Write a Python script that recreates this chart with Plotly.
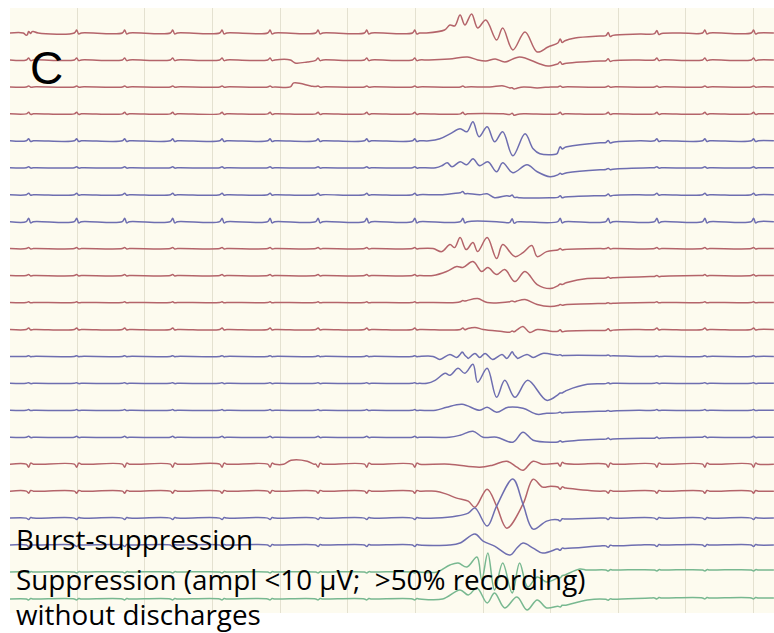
import numpy as np
import plotly.graph_objects as go

# ---------------- data ----------------
# time in seconds (1 s per vertical grid division), amplitude in µV (1 µV ~ 1 px display gain)
SWEEP_END_S = 11.30
CHANNEL_GROUPS = ["red"] * 4 + ["blue"] * 4 + ["red"] * 4 + ["blue"] * 4 + ["red"] * 2 + ["blue"] * 2 + ["green"] * 2

# ECG artefact beat times (s) and per-channel artefact amplitude (µV, + = up)
ECG_TIMES = [0.28, 0.99, 1.70, 2.41, 3.14, 3.85, 4.56, 5.28, 5.99, 6.70, 7.43, 8.14, 8.85, 9.57, 10.28, 11.00]
ECG_AMPL = [3, 2, 1, 1.5, 2, 1, 1.5, 3.5, 1, 1, 0.7, 1.5, 0.7, 0.7, 0.7, 1, -3, -2, -1.5, -1.5, -1, -1]
ECG_SHAPE_T = [-0.035, 0.0, 0.03, 0.07]
ECG_SHAPE_V = [0.0, 1.0, -0.35, 0.0]

# per-channel events (time s, amplitude µV) — the burst and slow shifts
ch01 = [(0.20, 0), (0.26, -3), (0.33, 2), (0.42, 0), (6.14, 0), (6.43, 3), (6.51, 8), (6.58, 7), (6.66, 18), (6.73, 8),
        (6.83, 19), (6.92, 5), (7.04, 13), (7.20, -7), (7.29, 5), (7.44, -17), (7.62, 1), (7.80, -19), (7.96, -14),
        (8.14, -9), (8.36, -5), (8.73, -3), (9.32, -1), (9.91, 0)]
ch02 = [(4.15, 0), (4.22, -3), (4.40, -2), (4.56, 0), (6.20, 0), (6.50, 1), (6.77, 3), (6.92, 0), (7.04, -1), (7.18, 1),
        (7.32, -2), (7.54, 3), (7.84, -4), (7.96, -6), (8.10, -4), (8.73, -1), (9.30, 0)]
ch03 = [(4.15, 0), (4.20, 4), (4.45, 1), (4.56, 0), (7.10, 0), (7.30, 1), (7.44, -2), (7.60, 0), (7.80, -1), (8.00, 0)]
ch04 = [(7.30, 0), (7.45, -1), (7.60, 0)]
ch05 = [(6.20, 0), (6.36, 2), (6.51, 7), (6.66, 12), (6.76, 9), (6.85, 19), (6.94, 4), (7.06, 14), (7.17, -1), (7.29, 9),
        (7.44, -15), (7.62, 7), (7.74, -8), (7.84, -13), (8.09, -13), (8.14, -8), (8.24, -6), (8.73, -2), (9.32, 0)]
ch06 = [(6.30, 0), (6.39, 2), (6.47, 5), (6.54, 1), (6.66, 6), (6.76, 3), (6.85, 9), (6.95, 2), (7.07, 6), (7.20, -4),
        (7.29, 5), (7.44, -5), (7.65, 3), (7.80, -4), (7.99, -9), (8.24, -5), (8.73, -2), (9.47, 0)]
ch07 = [(6.40, 0), (6.66, 2), (6.95, 0), (7.06, 1), (7.17, -3), (7.35, -1), (7.54, -3), (7.99, -3), (8.73, -1), (9.30, 0)]
ch08 = [(7.20, 0), (7.35, -1), (7.55, 0)]
ch09 = [(6.26, 0), (6.39, -3), (6.51, 4), (6.58, 1), (6.66, 11), (6.75, -1), (6.85, 6), (6.92, -3), (7.06, 11),
        (7.20, -10), (7.29, 4), (7.47, -8), (7.59, -4), (7.72, 3), (7.80, -8), (7.94, -3), (8.14, -1), (8.73, 0)]
ch10 = [(6.26, 0), (6.46, 4), (6.61, 9), (6.70, 8), (6.85, 14), (6.98, 4), (7.07, 8), (7.20, 1), (7.32, 6), (7.47, -6),
        (7.62, 4), (7.80, -9), (7.99, -13), (8.24, -7), (8.54, -3), (9.47, -1), (10.20, 0)]
ch11 = [(6.60, 0), (6.92, 4), (7.06, 0), (7.47, 1), (7.62, 3), (7.80, -2), (7.99, -4), (8.24, -2), (8.73, -1), (9.47, 0)]
ch12 = [(6.70, 0), (6.88, 2), (7.00, 0), (7.28, -2), (7.43, -3), (7.59, 3), (7.69, -3), (7.80, 0), (8.03, -2),
        (8.73, -1), (9.30, 0)]
ch13 = [(6.26, 0), (6.36, -3), (6.51, 2), (6.61, -1), (6.69, 4), (6.78, -2), (6.88, 3), (6.95, -1), (7.03, 3),
        (7.14, -3), (7.28, 2), (7.35, -2), (7.43, 4), (7.51, -2), (7.65, 2), (7.74, -1), (7.88, 3), (8.14, 1),
        (8.73, 1), (9.30, 0)]
ch14 = [(6.17, 0), (6.29, 3), (6.44, 10), (6.51, 8), (6.63, 15), (6.73, 10), (6.85, 19), (6.92, 1), (7.06, 15),
        (7.20, -14), (7.32, 3), (7.47, -14), (7.66, 3), (7.94, -17), (8.24, -7), (8.54, -1), (8.92, 0)]
ch15 = [(6.30, 0), (6.46, 3), (6.69, 6), (6.95, 0), (7.06, 3), (7.20, -2), (7.37, 3), (7.59, 2), (7.80, -4), (7.94, -3),
        (8.73, -1), (9.30, 0)]
ch16 = [(6.50, 0), (6.66, 2), (6.85, 6), (7.00, 0), (7.20, 0), (7.44, -5), (7.59, 5), (7.74, -3), (8.03, -5),
        (8.73, -2), (9.47, -1), (10.20, 0)]
ch17 = [(4.05, 0), (4.16, 4), (4.40, 3), (4.50, 0), (6.50, 0), (6.95, -3), (7.14, -1), (7.35, 3), (7.50, -3),
        (7.59, -6), (7.74, 3), (7.88, 0), (8.10, 1), (8.40, 0)]
ch18 = [(6.30, 0), (6.46, -3), (6.61, -7), (6.78, -10), (6.88, -16), (7.06, 2), (7.20, -15), (7.35, -37), (7.59, -13),
        (7.74, 12), (7.88, 4), (8.00, 5), (8.24, 3), (8.73, 0)]
ch19 = [(6.30, 0), (6.61, 2), (6.78, 5), (6.88, 10), (7.06, -8), (7.20, 12), (7.44, 39), (7.59, 14), (7.74, -11),
        (7.94, -3), (8.20, -1), (8.73, 0)]
ch20 = [(6.50, 0), (6.66, 2), (6.88, 11), (7.00, 4), (7.17, -1), (7.40, -10), (7.50, -3), (7.59, 2), (7.74, -3),
        (7.88, -8), (8.09, -4), (8.73, -1), (9.30, 0)]
ch21 = [(6.32, 0), (6.51, 7), (6.63, 9), (6.76, 5), (6.91, 15), (6.98, -8), (7.07, 19), (7.17, -18), (7.29, 9),
        (7.43, -21), (7.54, 9), (7.66, -15), (7.80, -5), (7.94, -10), (8.10, -6), (8.43, 3), (8.54, 2), (11.30, 2)]
ch22 = [(6.40, 0), (6.66, 9), (6.78, 4), (6.91, 11), (7.06, -4), (7.17, 6), (7.32, -9), (7.50, 2), (7.65, -11),
        (7.80, -1), (7.94, -9), (8.24, -6), (8.54, -1), (9.47, 1)]

CHANNEL_EVENTS = [ch01, ch02, ch03, ch04, ch05, ch06, ch07, ch08, ch09, ch10, ch11,
                  ch12, ch13, ch14, ch15, ch16, ch17, ch18, ch19, ch20, ch21, ch22]

LABEL_PANEL = "C"
LABEL_LINES = ["Burst-suppression",
               "Suppression (ampl <10 µV;  >50% recording)",
               "without discharges"]

# ---------------- styling ----------------
COLORS = {"red": "#b4646a", "blue": "#6e6eb0", "green": "#78b890"}
BG = "#fdfbef"
W, H = 774, 633
PLOT_L, PLOT_T, PLOT_B = 10, 8, 613          # plot area in page pixels
PX_PER_S = 67.6
CH_SPACING = 26.95                            # display spacing between channels
FIRST_BASE = 25.0                             # first channel baseline below plot top
BURST_WIN = (6.35, 7.95)

fig = go.Figure()
for k, (events, group) in enumerate(zip(CHANNEL_EVENTS, CHANNEL_GROUPS)):
    ev_t = np.array([e[0] for e in events], dtype=float)
    ev_v = np.array([e[1] for e in events], dtype=float)
    big_burst = np.max(np.abs(ev_v)) > 5
    spikes = [s for s in ECG_TIMES if not (big_burst and BURST_WIN[0] < s < BURST_WIN[1])]
    t_all = set([0.0, SWEEP_END_S]) | set(ev_t.tolist())
    for s in spikes:
        for d in ECG_SHAPE_T:
            t_all.add(round(s + d, 4))
    t = np.array(sorted(x for x in t_all if 0 <= x <= SWEEP_END_S))
    v = np.interp(t, ev_t, ev_v, left=ev_v[0], right=ev_v[-1])
    for s in spikes:
        v = v + ECG_AMPL[k] * np.interp(t - s, ECG_SHAPE_T, ECG_SHAPE_V, left=0, right=0)
    base = -(FIRST_BASE + CH_SPACING * k)
    fig.add_trace(go.Scatter(x=t, y=base + v, mode="lines",
                             line=dict(color=COLORS[group], width=1.5, shape="spline", smoothing=1.0),
                             hoverinfo="skip", showlegend=False))

plot_h = PLOT_B - PLOT_T
fig.update_layout(
    width=W, height=H,
    margin=dict(l=0, r=0, t=0, b=0),
    paper_bgcolor="white", plot_bgcolor=BG,
    xaxis=dict(domain=[PLOT_L / W, 1], range=[0.004, (W - PLOT_L) / PX_PER_S],
               showgrid=True, gridcolor="#e4e1d0", gridwidth=1.2, dtick=1, tick0=0,
               zeroline=False, showticklabels=False, ticks="", showline=False),
    yaxis=dict(domain=[(H - PLOT_B) / H, (H - PLOT_T) / H], range=[-plot_h, 0],
               showgrid=False, zeroline=False, showticklabels=False, ticks="", showline=False),
)

fig.add_annotation(x=28 / W, y=1 - 40 / H, xref="paper", yref="paper", xanchor="left", yanchor="top",
                   text=LABEL_PANEL, showarrow=False,
                   font=dict(family="Liberation Sans, Arial", size=46, color="black"))
text_font = dict(family="Open Sans, sans-serif", size=27.8, color="black")
for i, (txt, ymid) in enumerate(zip(LABEL_LINES, [539, 579, 614])):
    fig.add_annotation(x=14 / W, y=1 - ymid / H, xref="paper", yref="paper", xanchor="left", yanchor="middle",
                       text=txt, showarrow=False, font=text_font)

fig.write_html("out.html")
